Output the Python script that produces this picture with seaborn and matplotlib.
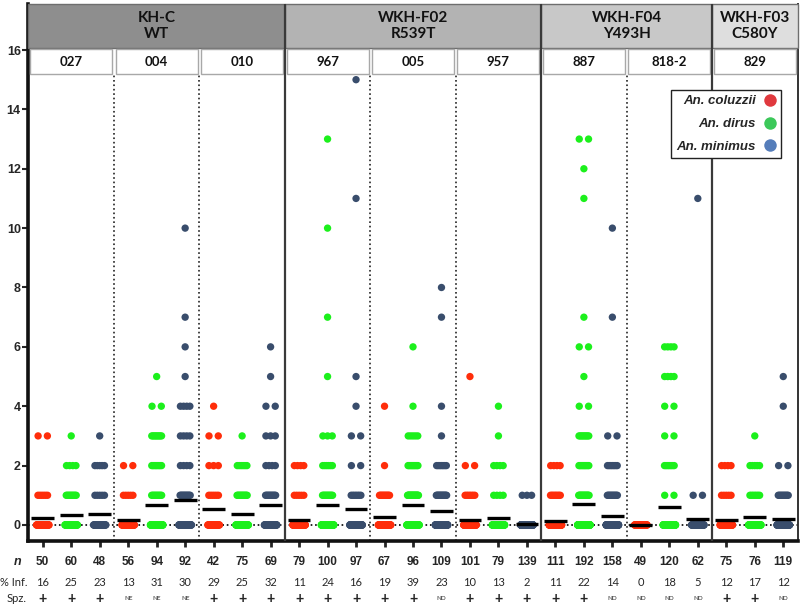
import numpy as np
import pandas as pd
import matplotlib.pyplot as plt
import seaborn as sns
from matplotlib.lines import Line2D
from matplotlib.patches import Rectangle

species = ['An. coluzzii', 'An. dirus', 'An. minimus']
pal = {'An. coluzzii': '#ff2d0a', 'An. dirus': '#1cf01c', 'An. minimus': '#394d6c'}
legend_cols = ['#e0393e', '#3cc85a', '#557dba']

isolates = ['027', '004', '010', '967', '005', '957', '887', '818-2', '829']
groups = ['KH-C\nWT', 'WKH-F02\nR539T', 'WKH-F04\nY493H', 'WKH-F03\nC580Y']
group_fill = ['#8e8e8e', '#b3b3b3', '#c8c8c8', '#dedede']

# oocysts per midgut -> number of mosquitoes (isolate by isolate, 3 species each)
counts = [
    {0: 42, 1: 6, 3: 2},
    {0: 45, 1: 10, 2: 4, 3: 1},
    {0: 37, 1: 5, 2: 5, 3: 1},
    {0: 49, 1: 5, 2: 2},
    {0: 65, 1: 10, 2: 8, 3: 8, 4: 2, 5: 1},
    {0: 64, 1: 12, 2: 4, 3: 4, 4: 4, 5: 1, 6: 1, 7: 1, 10: 1},
    {0: 30, 1: 6, 2: 3, 3: 2, 4: 1},
    {0: 56, 1: 12, 2: 6, 3: 1},
    {0: 47, 1: 11, 2: 4, 3: 3, 4: 2, 5: 1, 6: 1},
    {0: 70, 1: 5, 2: 4},
    {0: 76, 1: 11, 2: 6, 3: 3, 5: 1, 7: 1, 10: 1, 13: 1},
    {0: 82, 1: 7, 2: 2, 3: 2, 4: 1, 5: 1, 11: 1, 15: 1},
    {0: 54, 1: 11, 2: 1, 4: 1},
    {0: 59, 1: 21, 2: 9, 3: 5, 4: 1, 6: 1},
    {0: 84, 1: 14, 2: 7, 3: 1, 4: 1, 7: 1, 8: 1},
    {0: 91, 1: 7, 2: 2, 5: 1},
    {0: 69, 1: 4, 2: 4, 3: 1, 4: 1},
    {0: 136, 1: 3},
    {0: 99, 1: 8, 2: 4},
    {0: 150, 1: 15, 2: 9, 3: 8, 4: 2, 5: 1, 6: 2, 7: 1, 11: 1, 12: 1, 13: 2},
    {0: 136, 1: 11, 2: 7, 3: 2, 7: 1, 10: 1},
    {0: 49},
    {0: 99, 1: 2, 2: 7, 3: 2, 4: 2, 5: 4, 6: 4},
    {0: 59, 1: 2, 11: 1},
    {0: 66, 1: 5, 2: 4},
    {0: 63, 1: 7, 2: 5, 3: 1},
    {0: 105, 1: 10, 2: 2, 4: 1, 5: 1},
]
n_mosq = [50, 60, 48, 56, 94, 92, 42, 75, 69, 79, 100, 97, 67, 96, 109,
          101, 79, 139, 111, 192, 158, 49, 120, 62, 75, 76, 119]
pct_inf = [16, 25, 23, 13, 31, 30, 29, 25, 32, 11, 24, 16, 19, 39, 23,
           10, 13, 2, 11, 22, 14, 0, 18, 5, 12, 17, 12]
spz = ['+', '+', '+', 'NE', 'NE', 'NE', '+', '+', '+', '+', '+', '+', '+', '+', 'ND',
       '+', '+', '+', '+', '+', 'ND', 'ND', 'ND', 'ND', '+', '+', 'ND']

# long table, points at the same count spread side by side like a prism dot plot
rows = []
for i, cnt in enumerate(counts):
    for v, c in cnt.items():
        h = min(0.16 + 0.0015 * c, 0.22) if c > 1 else 0.0
        for dx in np.linspace(-h, h, c):
            rows.append((i, species[i % 3], v, i + dx))
df = pd.DataFrame(rows, columns=['col', 'species', 'oocysts', 'xpos'])
means = df.groupby('col')['oocysts'].mean()

sns.set_style('ticks')
plt.rcParams['font.family'] = ['Liberation Sans', 'DejaVu Sans']

fig = plt.figure(figsize=(8, 6.05), dpi=100)
ax = fig.add_axes([28.5 / 800, 64 / 605, 769 / 800, 537 / 605])

YLO, YHI = -0.54, 17.55
HB, HT = 15.19, 16.03   # isolate boxes
GB = 16.07              # group header bottom

ax.axhline(0, ls=':', color='black', lw=1.2, zorder=1)
sns.scatterplot(data=df, x='xpos', y='oocysts', hue='species', palette=pal,
                s=28, linewidth=0, legend=False, ax=ax, zorder=3)
ax.hlines(means.values, means.index - 0.4, means.index + 0.4,
          colors='black', lw=2.4, zorder=4)

# separators
for x in [2.5, 5.5, 11.5, 14.5, 20.5]:
    ax.vlines(x, YLO, HB, colors='#222222', linestyles=':', lw=1.2, zorder=2)
for x in [8.5, 17.5, 23.5]:
    ax.vlines(x, YLO, YHI, colors='#3a3a3a', lw=1.6, zorder=6)

# group headers
g_start = [0, 9, 18, 24]
g_end = [8, 17, 23, 26]
for g, lab in enumerate(groups):
    x0, x1 = g_start[g] - 0.5, g_end[g] + 0.5
    ax.add_patch(Rectangle((x0, GB), x1 - x0, YHI - GB, facecolor=group_fill[g],
                           edgecolor='#6e6e6e', lw=1, zorder=5, clip_on=False))
    ax.text((x0 + x1) / 2, (GB + YHI) / 2, lab, ha='center', va='center',
            fontsize=11, fontweight='bold', family='Lato', linespacing=1.1,
            color='#111111', zorder=7)
for k, iso in enumerate(isolates):
    x0, x1 = 3 * k - 0.5 + 0.06, 3 * k + 2.5 - 0.06
    ax.add_patch(Rectangle((x0, HB), x1 - x0, HT - HB, facecolor='white',
                           edgecolor='#a8a8a8', lw=1, zorder=5))
    ax.text(3 * k + 1, (HB + HT) / 2, iso, ha='center', va='center', fontsize=9.5,
            fontweight='bold', family='Lato', color='#111111', zorder=7)

ax.set_xlim(-0.5, 26.5)
ax.set_ylim(YLO, YHI)
ax.set_yticks(range(0, 17, 2))
ax.set_xticks(range(27))
ax.set_xticklabels([])
ax.set_xlabel('')
ax.set_ylabel('')
for t in ax.get_yticklabels():
    t.set_fontweight('bold')
ax.tick_params(axis='y', length=4.5, width=1.5, labelsize=9, pad=1)
ax.tick_params(axis='x', length=4.5, width=2)
for s in ['left', 'bottom']:
    ax.spines[s].set_linewidth(2.6)
    ax.spines[s].set_color('#111111')
ax.spines['right'].set_linewidth(1.4)
ax.spines['right'].set_color('#333333')
ax.spines['top'].set_visible(False)

# table below the axis
tr = ax.get_xaxis_transform()
row_y = [-0.039, -0.0764, -0.108]
ax.text(-0.75, row_y[0], 'n', transform=tr, ha='right', va='center',
        fontsize=9, fontweight='bold', fontstyle='italic')
ax.text(-0.55, row_y[1], '% Inf.', transform=tr, ha='right', va='center',
        fontsize=8, family='Lato')
ax.text(-0.55, row_y[2], 'Spz.', transform=tr, ha='right', va='center',
        fontsize=8, family='Lato')
for i in range(27):
    ax.text(i, row_y[0], str(n_mosq[i]), transform=tr, ha='center', va='center',
            fontsize=8.5, fontweight='bold')
    ax.text(i, row_y[1], str(pct_inf[i]), transform=tr, ha='center', va='center',
            fontsize=8, family='Lato')
    if spz[i] == '+':
        ax.text(i, row_y[2], '+', transform=tr, ha='center', va='center',
                fontsize=10, fontweight='bold')
    else:
        ax.text(i, row_y[2], spz[i], transform=tr, ha='center', va='center',
                fontsize=4.5, family='Lato')

handles = [Line2D([], [], marker='o', linestyle='', markersize=9,
                  markerfacecolor=c, markeredgewidth=0) for c in legend_cols]
leg = ax.legend(handles, species, loc='upper right', bbox_to_anchor=(0.9785, 0.84),
                markerfirst=False, frameon=True, fancybox=False, framealpha=1,
                edgecolor='#222222', handlelength=0.8, handletextpad=0.7,
                labelspacing=0.8, borderpad=0.4, borderaxespad=0,
                prop={'weight': 'bold', 'style': 'italic', 'size': 9.5})
leg.get_frame().set_linewidth(1)
leg.set_zorder(8)

fig.savefig('out.png', dpi=100)
